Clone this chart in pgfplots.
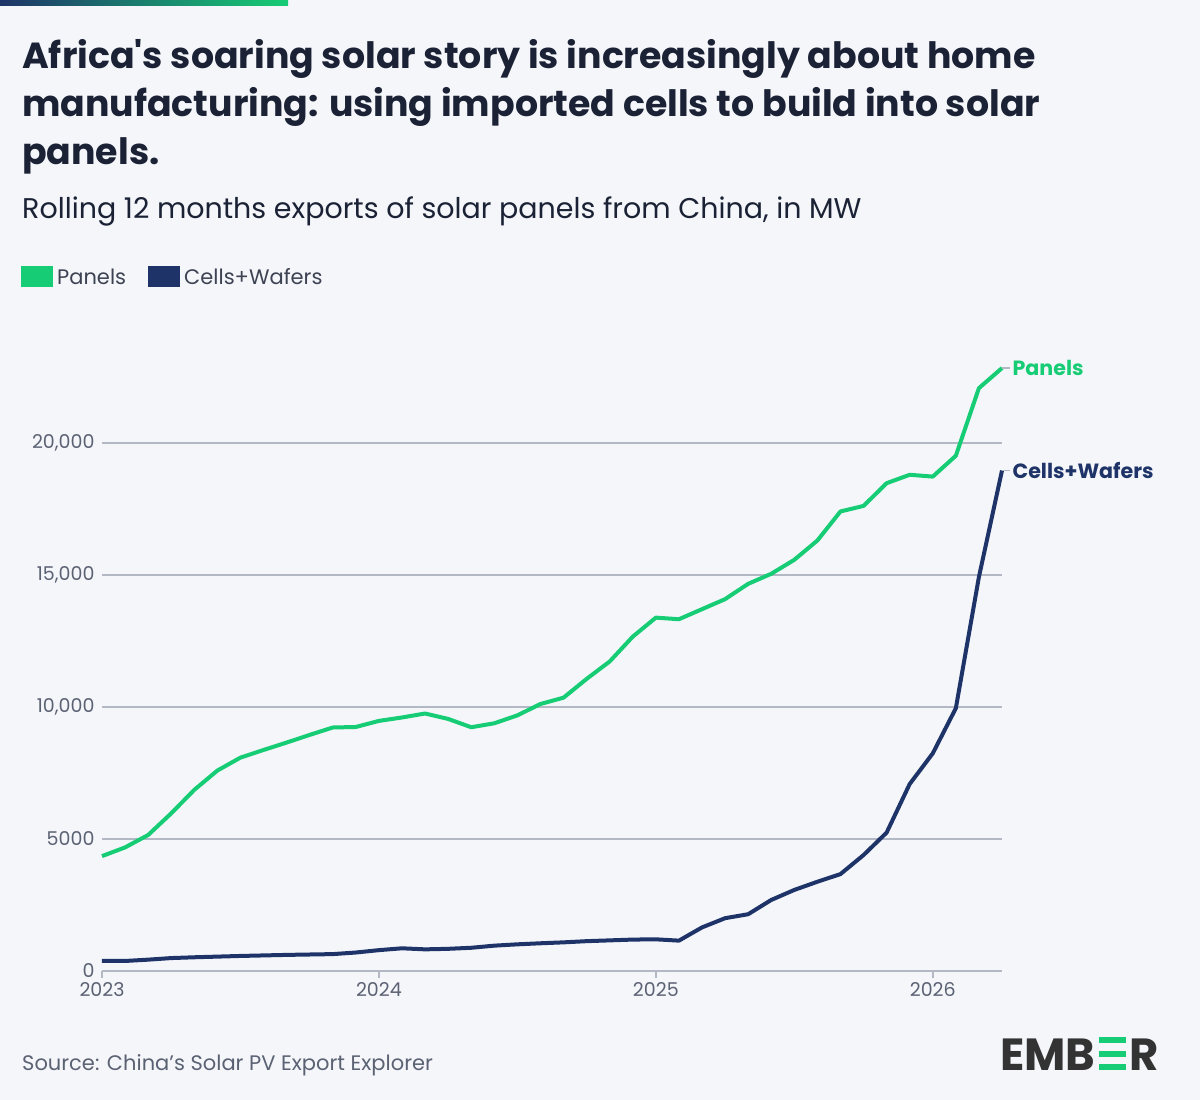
\documentclass[border=0pt]{standalone}
\usepackage{pgfplots}
\pgfplotsset{compat=1.18}
\usepackage{fontspec}
\setmainfont{Poppins}[Ligatures=TeXOff]
\definecolor{bg}{HTML}{F4F6FA}
\definecolor{pgreen}{HTML}{16CC74}
\definecolor{pnavy}{HTML}{1E3468}
\definecolor{ttl}{HTML}{1B2235}
\definecolor{tick}{HTML}{5B6273}
\definecolor{grd}{HTML}{B3B8C5}
\definecolor{logo}{HTML}{333333}
\begin{document}
\begin{tikzpicture}[x=1pt,y=1pt]
\useasboundingbox (0,0) rectangle (1200,-1100);
\fill[bg] (0,0) rectangle (1200,-1100);
\shade[left color=pnavy, right color=pgreen] (0,0) rectangle (288,-5);
\node[anchor=base west, inner sep=0, text=ttl, font=\fontsize{36.3}{40}\selectfont\bfseries] at (22,-68) {Africa's soaring solar story is increasingly about home};
\node[anchor=base west, inner sep=0, text=ttl, font=\fontsize{36.3}{40}\selectfont\bfseries] at (22,-116) {manufacturing: using imported cells to build into solar};
\node[anchor=base west, inner sep=0, text=ttl, font=\fontsize{36.3}{40}\selectfont\bfseries] at (22,-164) {panels.};
\node[anchor=base west, inner sep=0, text=ttl, font=\fontsize{28.5}{32}\selectfont] at (22,-218) {Rolling 12 months exports of solar panels from China, in MW};
\fill[pgreen] (21,-266) rectangle (53,-287);
\node[anchor=base west, inner sep=0, text=ttl!85, font=\fontsize{21}{24}\selectfont] at (57,-284) {Panels};
\fill[pnavy] (148,-266) rectangle (180,-287);
\node[anchor=base west, inner sep=0, text=ttl!85, font=\fontsize{21}{24}\selectfont] at (184,-284) {Cells+Wafers};
\node[anchor=base west, inner sep=0, text=tick, font=\fontsize{21}{24}\selectfont] at (22,-1070) {Source: China’s Solar PV Export Explorer};
% logo
\node[anchor=base west, inner sep=0, text=logo, font=\fontsize{45}{48}\selectfont\bfseries] (emb) at (1000,-1070) {EMB};
\fill[pgreen] ([xshift=3pt]emb.base east) rectangle ++(27,6);
\fill[pgreen] ([xshift=3pt,yshift=13.5pt]emb.base east) rectangle ++(27,6);
\fill[pgreen] ([xshift=3pt,yshift=27pt]emb.base east) rectangle ++(27,6);
\node[anchor=base west, inner sep=0, text=logo, font=\fontsize{45}{48}\selectfont\bfseries] at ([xshift=34pt]emb.base east) {R};
\begin{axis}[
  at={(102pt,-971pt)}, anchor=origin,
  width=900pt, height=620.4pt, scale only axis,
  xmin=0, xmax=39, ymin=0, ymax=23500,
  clip=false, scaled y ticks=false,
  axis x line*=bottom, axis y line*=left,
  y axis line style={draw=none},
  x axis line style={grd, line width=1.5pt},
  xtick={0,12,24,36}, xticklabels={2023,2024,2025,2026},
  ytick={0,5000,10000,15000,20000}, yticklabels={0,5000,{10,000},{15,000},{20,000}},
  xtick align=outside, major tick length=7pt,
  xtick style={grd, line width=1.5pt},
  ytick style={draw=none},
  ymajorgrids, major grid style={grd, line width=1.5pt},
  ticklabel style={text=tick, font=\fontsize{19}{22}\selectfont},
  xticklabel style={yshift=-1pt},
  yticklabel style={xshift=-4pt},
]
\addplot[pgreen, line width=4pt, line join=round] coordinates {
(0,4350) (1,4680) (2,5150) (3,5970) (4,6860) (5,7590) (6,8080) (7,8370) (8,8650) (9,8940)
(10,9220) (11,9240) (12,9470) (13,9600) (14,9750) (15,9545) (16,9230) (17,9380) (18,9680) (19,10110)
(20,10350) (21,11060) (22,11720) (23,12660) (24,13380) (25,13320) (26,13700) (27,14080) (28,14660) (29,15040)
(30,15570) (31,16300) (32,17400) (33,17610) (34,18470) (35,18790) (36,18720) (37,19510) (38,22070) (39,22830)
};
\addplot[pnavy, line width=4pt, line join=round] coordinates {
(0,380) (1,380) (2,430) (3,490) (4,520) (5,545) (6,570) (7,590) (8,610) (9,625)
(10,640) (11,700) (12,790) (13,860) (14,820) (15,840) (16,880) (17,960) (18,1010) (19,1050)
(20,1085) (21,1130) (22,1160) (23,1190) (24,1200) (25,1150) (26,1650) (27,2000) (28,2150) (29,2690)
(30,3070) (31,3380) (32,3670) (33,4390) (34,5240) (35,7080) (36,8240) (37,9950) (38,14920) (39,18950)
};
\draw[grd, line width=1.2pt] (axis cs:39,22830) -- ++(8pt,0) node[anchor=west, inner sep=2pt, text=pgreen, font=\fontsize{20.6}{24}\selectfont\bfseries] {Panels};
\draw[grd, line width=1.2pt] (axis cs:39,18950) -- ++(8pt,0) node[anchor=west, inner sep=2pt, text=pnavy, font=\fontsize{20.6}{24}\selectfont\bfseries] {Cells+Wafers};
\end{axis}
\end{tikzpicture}
\end{document}
